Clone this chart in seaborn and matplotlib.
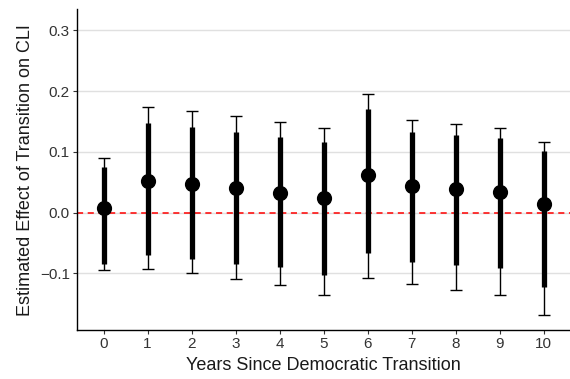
import matplotlib
matplotlib.use("Agg")
import matplotlib.pyplot as plt
import seaborn as sns
import pandas as pd
import numpy as np

years = [0, 1, 2, 3, 4, 5, 6, 7, 8, 9, 10]
estimate = [0.007, 0.052, 0.047, 0.040, 0.033, 0.024, 0.062, 0.044, 0.039, 0.034, 0.0135]
inner_lo = [-0.084, -0.0705, -0.077, -0.084, -0.089, -0.102, -0.066, -0.0815, -0.086, -0.091, -0.122]
inner_hi = [0.075, 0.147, 0.141, 0.133, 0.125, 0.117, 0.170, 0.133, 0.128, 0.122, 0.101]
outer_lo = [-0.095, -0.093, -0.100, -0.110, -0.119, -0.135, -0.108, -0.118, -0.127, -0.136, -0.168]
outer_hi = [0.090, 0.174, 0.167, 0.159, 0.149, 0.139, 0.196, 0.152, 0.146, 0.139, 0.1157]
yticks = [-0.1, 0.0, 0.1, 0.2, 0.3]
ytick_labels = ["\u22120.1", "0.0", "0.1", "0.2", "0.3"]

df = pd.DataFrame({"year": years, "est": estimate, "ilo": inner_lo, "ihi": inner_hi,
                   "olo": outer_lo, "ohi": outer_hi})

sns.set_style("white")
plt.rcParams["font.family"] = ["Liberation Sans", "DejaVu Sans"]

fig = plt.figure(figsize=(5.7, 3.79), dpi=100)
ax = fig.add_axes([0.1346, 0.129, 0.8654, 0.847])

for y in yticks:
    ax.axhline(y, color="#e0e0e0", lw=1.0, zorder=0)

ax.axhline(0, color="red", lw=1.1, ls=(0, (4, 3)), zorder=1)

# outer CI whiskers with caps
ax.errorbar(df["year"], df["est"],
            yerr=[df["est"] - df["olo"], df["ohi"] - df["est"]],
            fmt="none", ecolor="black", elinewidth=1.0, capsize=4.5, capthick=1.0, zorder=2)
# inner CI thick bars
ax.vlines(df["year"], df["ilo"], df["ihi"], color="black", lw=3.8, zorder=3)

sns.scatterplot(data=df, x="year", y="est", color="black", s=120, edgecolor="black",
                linewidth=0, ax=ax, zorder=4)

ax.set_xlim(-0.61, 10.6)
ax.set_ylim(-0.1935, 0.335)
ax.set_xticks(years)
ax.set_xticklabels([str(y) for y in years])
ax.set_yticks(yticks)
ax.set_yticklabels(ytick_labels)

for s in ["top", "right"]:
    ax.spines[s].set_visible(False)
for s in ["left", "bottom"]:
    ax.spines[s].set_color("black")
    ax.spines[s].set_linewidth(1.0)

ax.tick_params(axis="both", which="major", direction="out", length=3, width=0.8,
               color="#333333", labelsize=11, labelcolor="#333333", pad=2, left=True, bottom=True)

ax.set_xlabel("Years Since Democratic Transition", fontsize=13, color="#1a1a1a", labelpad=4)
ax.set_ylabel("Estimated Effect of Transition on CLI", fontsize=13, color="#1a1a1a", labelpad=4)

fig.savefig("out.png", dpi=100)
